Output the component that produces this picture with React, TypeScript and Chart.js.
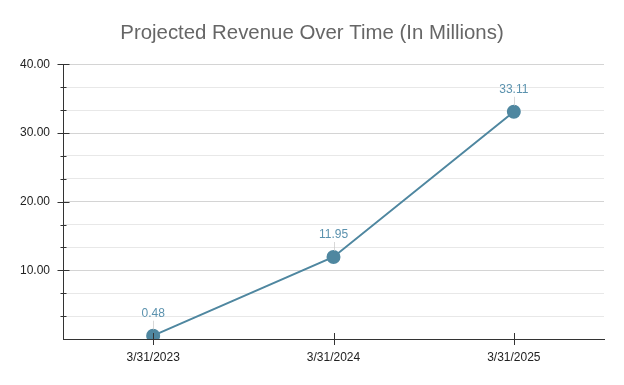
import React, { useEffect, useRef } from "react";
import { Chart, registerables } from "chart.js";

Chart.register(...registerables);

const categories = ["3/31/2023", "3/31/2024", "3/31/2025"];
const revenue = [0.48, 11.95, 33.11];
const yMin = 0;
const yMax = 40;
const yTickCount = 13; // major every 10, two minor steps between
const chartTitle = "Projected Revenue Over Time (In Millions)";

const lineColor = "#4f87a0";
const labelColor = "#5b92ae";
const axisColor = "#333333";
const fontFamily = "'Liberation Sans', Arial, sans-serif";

const isMajor = (v: number) => Math.abs(v / 10 - Math.round(v / 10)) < 1e-6;

// Tick marks that straddle the axis lines, long for major values and short for minor ones
const crossTicks = {
  id: "crossTicks",
  afterDraw(chart: any) {
    const { ctx } = chart;
    const y = chart.scales.y;
    const x = chart.scales.x;
    ctx.save();
    ctx.strokeStyle = axisColor;
    ctx.lineWidth = 1;
    y.ticks.forEach((t: any) => {
      if (t.value === yMin) return;
      const py = Math.round(y.getPixelForValue(t.value)) + 0.5;
      const ax = Math.round(y.right) + 0.5;
      const major = isMajor(t.value);
      ctx.beginPath();
      ctx.moveTo(ax - (major ? 6 : 3), py);
      ctx.lineTo(ax + (major ? 6 : 3), py);
      ctx.stroke();
    });
    categories.forEach((_, i) => {
      const px = Math.round(x.getPixelForValue(i)) + 0.5;
      const ay = Math.round(x.top);
      ctx.beginPath();
      ctx.moveTo(px, ay - 6);
      ctx.lineTo(px, ay + 6);
      ctx.stroke();
    });
    ctx.restore();
  },
};

// Value labels above each point with a faint leader line
const valueLabels = {
  id: "valueLabels",
  afterDatasetsDraw(chart: any) {
    const { ctx } = chart;
    const meta = chart.getDatasetMeta(0);
    ctx.save();
    meta.data.forEach((pt: any, i: number) => {
      const v = revenue[i];
      const ty = pt.y - 22;
      ctx.strokeStyle = "rgba(200,200,200,0.7)";
      ctx.lineWidth = 1;
      ctx.beginPath();
      ctx.moveTo(Math.round(pt.x) + 0.5, ty + 7);
      ctx.lineTo(Math.round(pt.x) + 0.5, pt.y - 6);
      ctx.stroke();
      ctx.fillStyle = labelColor;
      ctx.font = `12px ${fontFamily}`;
      ctx.textAlign = "center";
      ctx.textBaseline = "middle";
      ctx.fillText(v.toFixed(2), pt.x, ty);
    });
    ctx.restore();
  },
};

export default function App() {
  const ref = useRef<HTMLCanvasElement | null>(null);

  useEffect(() => {
    document.body.style.margin = "0";
    if (!ref.current) return;
    const chart = new Chart(ref.current, {
      type: "line",
      data: {
        labels: categories,
        datasets: [
          {
            data: revenue,
            yAxisID: "y",
            borderColor: lineColor,
            backgroundColor: lineColor,
            borderWidth: 2,
            pointRadius: 6,
            pointHoverRadius: 6,
            pointBackgroundColor: lineColor,
            pointBorderColor: lineColor,
            tension: 0,
          },
        ],
      },
      options: {
        responsive: false,
        animation: false,
        devicePixelRatio: 1,
        layout: { padding: 0 },
        plugins: {
          legend: { display: false },
          tooltip: { enabled: false },
          title: {
            display: true,
            text: chartTitle,
            color: "#666666",
            font: { family: fontFamily, size: 20.4, weight: "normal" },
            padding: { top: 21, bottom: 19 },
          },
        },
        scales: {
          x: {
            type: "category",
            offset: true,
            grid: { display: false, drawTicks: false },
            border: { display: true, color: axisColor, width: 1 },
            ticks: {
              color: "#222222",
              padding: 11,
              font: { family: fontFamily, size: 12 },
              maxRotation: 0,
            },
            afterFit(scale: any) {
              scale.height = 46;
            },
          },
          y: {
            type: "linear",
            position: "left",
            min: yMin,
            max: yMax,
            grid: {
              drawTicks: false,
              color: (ctx: any) => (isMajor(ctx.tick.value) ? "#d4d4d4" : "#e8e8e8"),
              lineWidth: 1,
            },
            border: { display: true, color: axisColor, width: 1 },
            ticks: {
              count: yTickCount,
              color: "#222222",
              padding: 13,
              font: { family: fontFamily, size: 12 },
              callback: (v: any) => (isMajor(Number(v)) && Number(v) !== yMin ? Number(v).toFixed(2) : ""),
            },
            afterFit(scale: any) {
              scale.width = 63;
            },
          },
          // empty right-hand gutter
          gutter: {
            type: "linear",
            position: "right",
            min: yMin,
            max: yMax,
            grid: { display: false, drawTicks: false },
            border: { display: false },
            ticks: { display: false },
            afterFit(scale: any) {
              scale.width = 20;
            },
          },
        },
      },
      plugins: [crossTicks, valueLabels],
    });
    return () => chart.destroy();
  }, []);

  return (
    <div style={{ width: 624, height: 385, background: "#ffffff" }}>
      <canvas ref={ref} width={624} height={385} />
    </div>
  );
}
